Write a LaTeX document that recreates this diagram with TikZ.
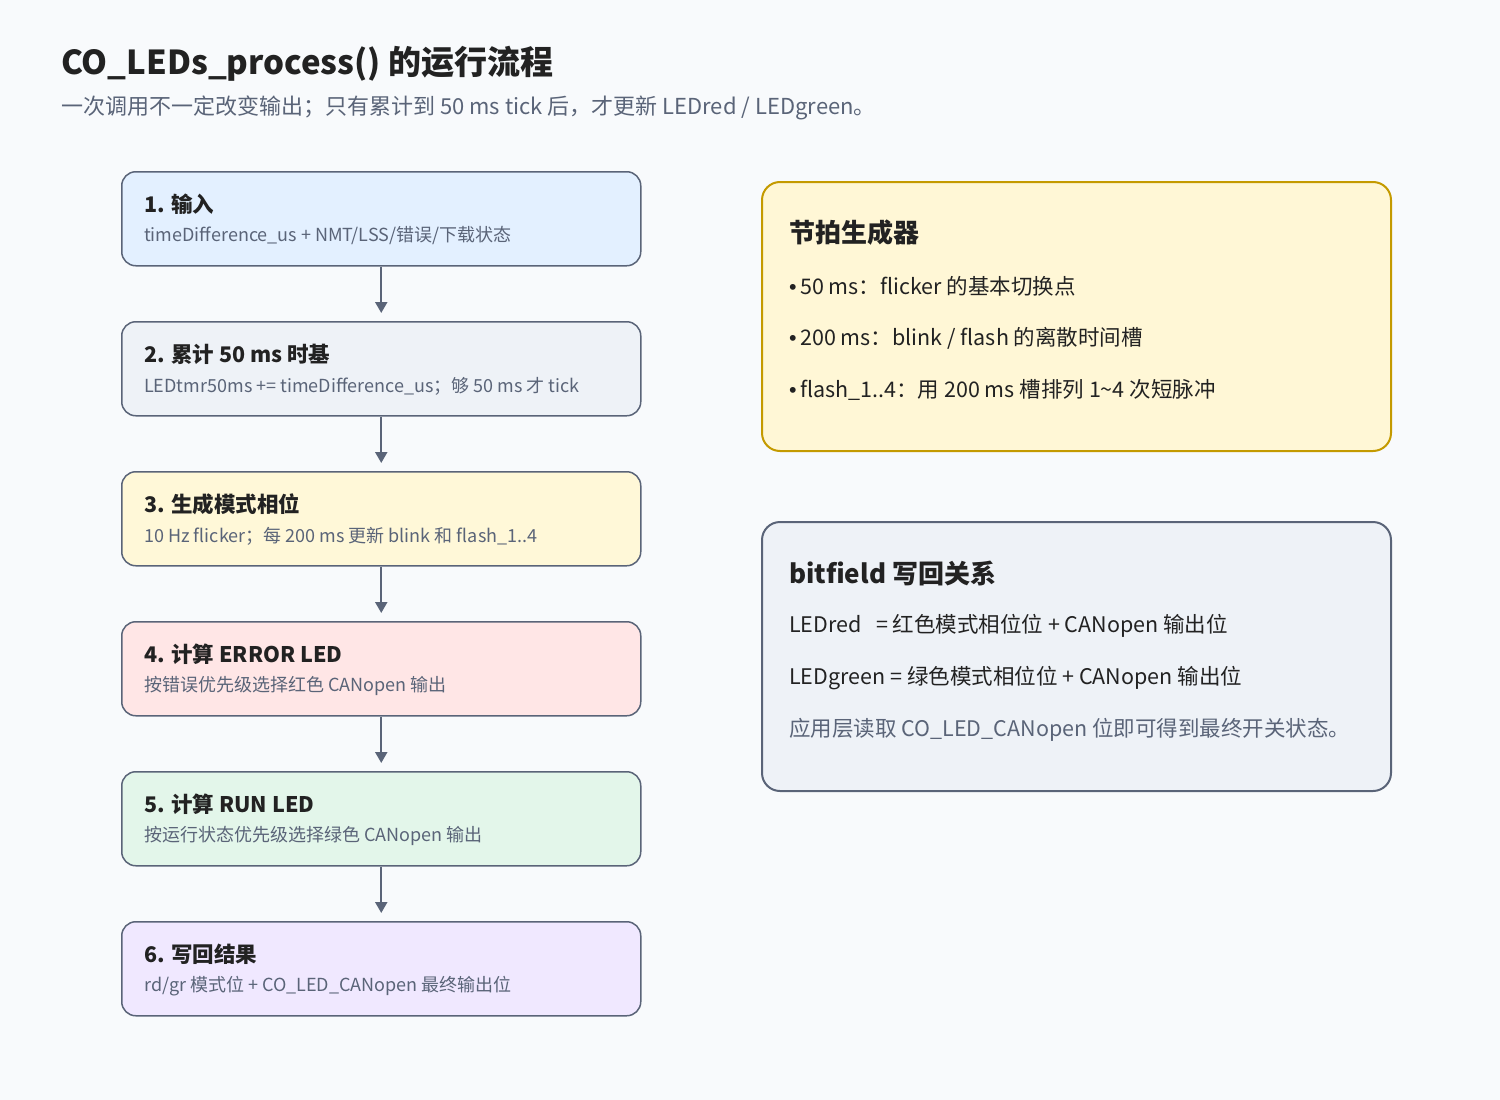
\documentclass[tikz,border=0pt]{standalone}
\usepackage{fontspec}
\setmainfont{Noto Sans CJK SC}
\newfontfamily\bulfont{Liberation Sans}
\usetikzlibrary{arrows.meta}
\definecolor{bg}{HTML}{F8FAFC}
\definecolor{edge}{HTML}{5A6478}
\definecolor{txt}{HTML}{222222}
\definecolor{sub}{HTML}{5A6478}
\definecolor{fa}{HTML}{E3F0FF}
\definecolor{fb}{HTML}{EEF2F7}
\definecolor{fc}{HTML}{FFF8D8}
\definecolor{fd}{HTML}{FFE6E6}
\definecolor{fe}{HTML}{E3F6EA}
\definecolor{ff}{HTML}{F0E8FF}
\definecolor{gold}{HTML}{C49A00}
\definecolor{goldfill}{HTML}{FFF7D6}
\newcommand{\bul}{{\bulfont\textbullet}\,}
\tikzset{
 stepbox/.style={draw=edge,line width=1.5pt,rounded corners=14pt,minimum width=519pt,minimum height=94pt,anchor=north west,inner sep=0},
 ttl/.style={anchor=west,inner sep=0,font=\fontsize{21.5}{24}\selectfont\bfseries,text=txt},
 stl/.style={anchor=west,inner sep=0,font=\fontsize{18}{20}\selectfont,text=sub},
 rt/.style={anchor=west,inner sep=0,font=\fontsize{21.5}{24}\selectfont,text=txt},
 arr/.style={-{Triangle[length=11pt,width=12pt]},line width=2.2pt,draw=edge,shorten >=8pt}
}
\begin{document}
\begin{tikzpicture}[x=1pt,y=-1pt]
\fill[bg] (0,0) rectangle (1500,1100);
\useasboundingbox (0,0) rectangle (1500,1100);
\node[anchor=west,inner sep=0,font=\fontsize{33}{36}\selectfont\bfseries,text=txt] (title) at (61,64) {CO\_LEDs\_process() 的运行流程};
\node[anchor=west,inner sep=0,font=\fontsize{22}{24}\selectfont,text=sub] (subt) at (61,108) {一次调用不一定改变输出；只有累计到 50 ms tick 后，才更新 LEDred / LEDgreen。};
\node[stepbox,fill=fa] (b1) at (121,171) {};
\node[stepbox,fill=fb] (b2) at (121,321) {};
\node[stepbox,fill=fc] (b3) at (121,471) {};
\node[stepbox,fill=fd] (b4) at (121,621) {};
\node[stepbox,fill=fe] (b5) at (121,771) {};
\node[stepbox,fill=ff] (b6) at (121,921) {};
\node[ttl] (t1) at (144,204) {1. 输入};
\node[stl] (s1) at (144,236) {timeDifference\_us + NMT/LSS/错误/下载状态};
\node[ttl] (t2) at (144,354) {2. 累计 50 ms 时基};
\node[stl] (s2) at (144,386) {LEDtmr50ms += timeDifference\_us；够 50 ms 才 tick};
\node[ttl] (t3) at (144,504) {3. 生成模式相位};
\node[stl] (s3) at (144,536) {10 Hz flicker；每 200 ms 更新 blink 和 flash\_1..4};
\node[ttl] (t4) at (144,654) {4. 计算 ERROR LED};
\node[stl] (s4) at (144,686) {按错误优先级选择红色 CANopen 输出};
\node[ttl] (t5) at (144,804) {5. 计算 RUN LED};
\node[stl] (s5) at (144,836) {按运行状态优先级选择绿色 CANopen 输出};
\node[ttl] (t6) at (144,954) {6. 写回结果};
\node[stl] (s6) at (144,986) {rd/gr 模式位 + CO\_LED\_CANopen 最终输出位};
\foreach \a/\b in {b1/b2,b2/b3,b3/b4,b4/b5,b5/b6} \draw[arr] (\a.south) -- (\b.north);
\node[draw=gold,fill=goldfill,line width=2pt,rounded corners=18pt,minimum width=629pt,minimum height=269pt,anchor=north west,inner sep=0] (r1) at (761,181) {};
\node[anchor=west,inner sep=0,font=\fontsize{26}{30}\selectfont\bfseries,text=txt] (r1t) at (789,233) {节拍生成器};
\node[rt] (r1a) at (789,286) {\bul 50 ms：flicker 的基本切换点};
\node[rt] (r1b) at (789,338) {\bul 200 ms：blink / flash 的离散时间槽};
\node[rt] (r1c) at (789,390) {\bul flash\_1..4：用 200 ms 槽排列 1\textasciitilde4 次短脉冲};
\node[draw=edge,fill=fb,line width=2pt,rounded corners=18pt,minimum width=629pt,minimum height=269pt,anchor=north west,inner sep=0] (r2) at (761,521) {};
\node[anchor=west,inner sep=0,font=\fontsize{26}{30}\selectfont\bfseries,text=txt] (r2t) at (789,573) {bitfield 写回关系};
\node[rt] (r2a) at (789,626) {LEDred\ \ \ = 红色模式相位位 + CANopen 输出位};
\node[rt] (r2b) at (789,678) {LEDgreen = 绿色模式相位位 + CANopen 输出位};
\node[rt,text=sub] (r2c) at (789,730) {应用层读取 CO\_LED\_CANopen 位即可得到最终开关状态。};
\end{tikzpicture}
\end{document}
